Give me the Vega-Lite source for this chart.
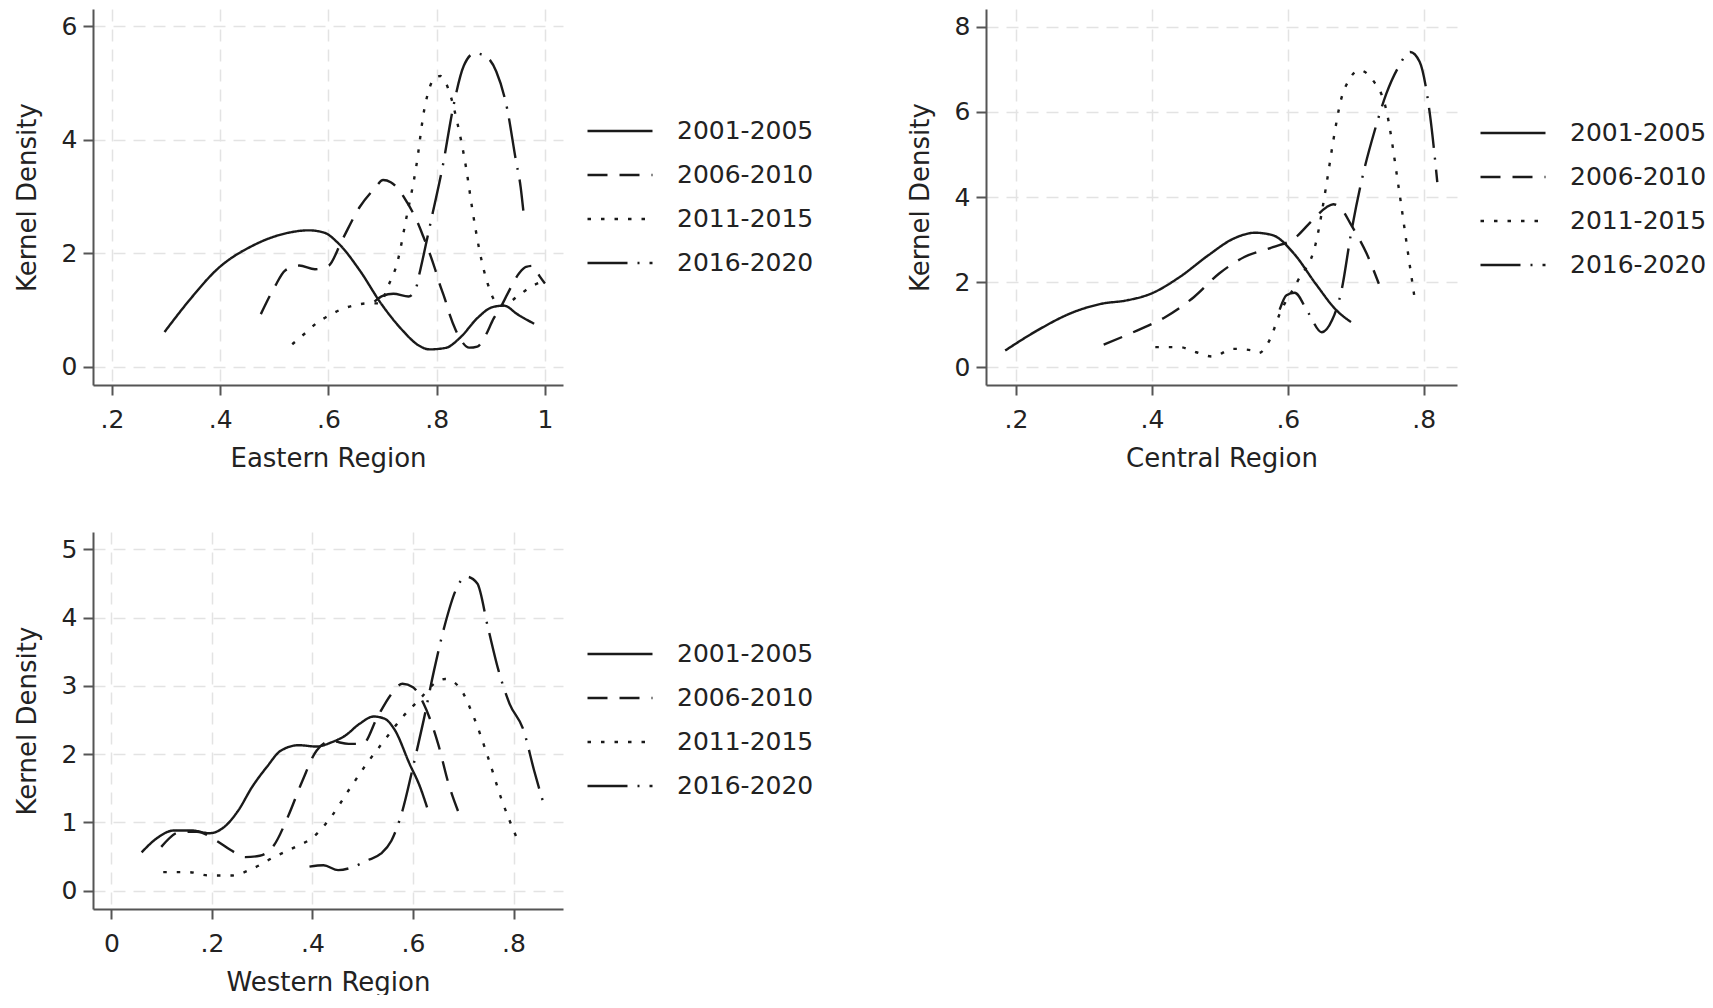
{
  "$schema": "https://vega.github.io/schema/vega-lite/v6.json",
  "background": "white",
  "padding": {"left": 14, "top": 9, "right": 0, "bottom": 0},
  "datasets": {
    "east": [
      {"period": "2001-2005", "x": 0.297, "y": 0.615}, {"period": "2001-2005", "x": 0.342, "y": 1.164}, {"period": "2001-2005", "x": 0.395, "y": 1.726},
      {"period": "2001-2005", "x": 0.461, "y": 2.14}, {"period": "2001-2005", "x": 0.527, "y": 2.364}, {"period": "2001-2005", "x": 0.563, "y": 2.405},
      {"period": "2001-2005", "x": 0.592, "y": 2.364}, {"period": "2001-2005", "x": 0.619, "y": 2.169}, {"period": "2001-2005", "x": 0.658, "y": 1.696},
      {"period": "2001-2005", "x": 0.698, "y": 1.105}, {"period": "2001-2005", "x": 0.738, "y": 0.632}, {"period": "2001-2005", "x": 0.764, "y": 0.396},
      {"period": "2001-2005", "x": 0.787, "y": 0.31}, {"period": "2001-2005", "x": 0.817, "y": 0.337}, {"period": "2001-2005", "x": 0.843, "y": 0.514},
      {"period": "2001-2005", "x": 0.876, "y": 0.869}, {"period": "2001-2005", "x": 0.902, "y": 1.05}, {"period": "2001-2005", "x": 0.924, "y": 1.08},
      {"period": "2001-2005", "x": 0.949, "y": 0.928}, {"period": "2001-2005", "x": 0.98, "y": 0.76},
      {"period": "2006-2010", "x": 0.475, "y": 0.93}, {"period": "2006-2010", "x": 0.5, "y": 1.4}, {"period": "2006-2010", "x": 0.52, "y": 1.7},
      {"period": "2006-2010", "x": 0.546, "y": 1.785}, {"period": "2006-2010", "x": 0.575, "y": 1.72}, {"period": "2006-2010", "x": 0.6, "y": 1.78},
      {"period": "2006-2010", "x": 0.625, "y": 2.23}, {"period": "2006-2010", "x": 0.658, "y": 2.82}, {"period": "2006-2010", "x": 0.685, "y": 3.14},
      {"period": "2006-2010", "x": 0.701, "y": 3.29}, {"period": "2006-2010", "x": 0.715, "y": 3.25}, {"period": "2006-2010", "x": 0.73, "y": 3.12},
      {"period": "2006-2010", "x": 0.745, "y": 2.9}, {"period": "2006-2010", "x": 0.762, "y": 2.6}, {"period": "2006-2010", "x": 0.775, "y": 2.3},
      {"period": "2006-2010", "x": 0.787, "y": 2.0}, {"period": "2006-2010", "x": 0.797, "y": 1.72}, {"period": "2006-2010", "x": 0.805, "y": 1.47},
      {"period": "2006-2010", "x": 0.815, "y": 1.2}, {"period": "2006-2010", "x": 0.823, "y": 0.95}, {"period": "2006-2010", "x": 0.835, "y": 0.65},
      {"period": "2006-2010", "x": 0.845, "y": 0.47}, {"period": "2006-2010", "x": 0.86, "y": 0.34}, {"period": "2006-2010", "x": 0.875, "y": 0.36},
      {"period": "2006-2010", "x": 0.89, "y": 0.55}, {"period": "2006-2010", "x": 0.905, "y": 0.85}, {"period": "2006-2010", "x": 0.918, "y": 1.05},
      {"period": "2006-2010", "x": 0.931, "y": 1.29}, {"period": "2006-2010", "x": 0.953, "y": 1.66}, {"period": "2006-2010", "x": 0.965, "y": 1.76},
      {"period": "2006-2010", "x": 0.978, "y": 1.78}, {"period": "2006-2010", "x": 0.99, "y": 1.6}, {"period": "2006-2010", "x": 1.0, "y": 1.47},
      {"period": "2011-2015", "x": 0.533, "y": 0.4}, {"period": "2011-2015", "x": 0.56, "y": 0.62}, {"period": "2011-2015", "x": 0.579, "y": 0.78},
      {"period": "2011-2015", "x": 0.6, "y": 0.9}, {"period": "2011-2015", "x": 0.625, "y": 1.02}, {"period": "2011-2015", "x": 0.65, "y": 1.09},
      {"period": "2011-2015", "x": 0.672, "y": 1.12}, {"period": "2011-2015", "x": 0.695, "y": 1.12}, {"period": "2011-2015", "x": 0.709, "y": 1.4},
      {"period": "2011-2015", "x": 0.728, "y": 1.87}, {"period": "2011-2015", "x": 0.743, "y": 2.58}, {"period": "2011-2015", "x": 0.762, "y": 3.52},
      {"period": "2011-2015", "x": 0.777, "y": 4.53}, {"period": "2011-2015", "x": 0.797, "y": 5.09}, {"period": "2011-2015", "x": 0.807, "y": 5.12},
      {"period": "2011-2015", "x": 0.823, "y": 4.85}, {"period": "2011-2015", "x": 0.838, "y": 4.3}, {"period": "2011-2015", "x": 0.854, "y": 3.52},
      {"period": "2011-2015", "x": 0.866, "y": 2.76}, {"period": "2011-2015", "x": 0.879, "y": 2.05}, {"period": "2011-2015", "x": 0.894, "y": 1.47},
      {"period": "2011-2015", "x": 0.907, "y": 1.17}, {"period": "2011-2015", "x": 0.922, "y": 1.08}, {"period": "2011-2015", "x": 0.95, "y": 1.25},
      {"period": "2011-2015", "x": 0.977, "y": 1.43}, {"period": "2011-2015", "x": 0.995, "y": 1.5},
      {"period": "2016-2020", "x": 0.685, "y": 1.15}, {"period": "2016-2020", "x": 0.7, "y": 1.25}, {"period": "2016-2020", "x": 0.72, "y": 1.29},
      {"period": "2016-2020", "x": 0.748, "y": 1.24}, {"period": "2016-2020", "x": 0.762, "y": 1.4}, {"period": "2016-2020", "x": 0.768, "y": 1.64},
      {"period": "2016-2020", "x": 0.79, "y": 2.6}, {"period": "2016-2020", "x": 0.811, "y": 3.53}, {"period": "2016-2020", "x": 0.83, "y": 4.55},
      {"period": "2016-2020", "x": 0.85, "y": 5.3}, {"period": "2016-2020", "x": 0.87, "y": 5.52}, {"period": "2016-2020", "x": 0.89, "y": 5.47},
      {"period": "2016-2020", "x": 0.91, "y": 5.2}, {"period": "2016-2020", "x": 0.93, "y": 4.55}, {"period": "2016-2020", "x": 0.946, "y": 3.65},
      {"period": "2016-2020", "x": 0.955, "y": 3.17}, {"period": "2016-2020", "x": 0.96, "y": 2.75}
    ],
    "central": [
      {"period": "2001-2005", "x": 0.184, "y": 0.39}, {"period": "2001-2005", "x": 0.231, "y": 0.86}, {"period": "2001-2005", "x": 0.284, "y": 1.29},
      {"period": "2001-2005", "x": 0.326, "y": 1.49}, {"period": "2001-2005", "x": 0.363, "y": 1.57}, {"period": "2001-2005", "x": 0.399, "y": 1.73},
      {"period": "2001-2005", "x": 0.441, "y": 2.12}, {"period": "2001-2005", "x": 0.483, "y": 2.63}, {"period": "2001-2005", "x": 0.52, "y": 3.02},
      {"period": "2001-2005", "x": 0.552, "y": 3.16}, {"period": "2001-2005", "x": 0.578, "y": 3.1}, {"period": "2001-2005", "x": 0.609, "y": 2.67},
      {"period": "2001-2005", "x": 0.641, "y": 1.96}, {"period": "2001-2005", "x": 0.672, "y": 1.33}, {"period": "2001-2005", "x": 0.693, "y": 1.06},
      {"period": "2006-2010", "x": 0.329, "y": 0.53}, {"period": "2006-2010", "x": 0.378, "y": 0.86}, {"period": "2006-2010", "x": 0.42, "y": 1.18},
      {"period": "2006-2010", "x": 0.462, "y": 1.65}, {"period": "2006-2010", "x": 0.499, "y": 2.2}, {"period": "2006-2010", "x": 0.536, "y": 2.59},
      {"period": "2006-2010", "x": 0.578, "y": 2.82}, {"period": "2006-2010", "x": 0.609, "y": 3.02}, {"period": "2006-2010", "x": 0.636, "y": 3.45},
      {"period": "2006-2010", "x": 0.657, "y": 3.76}, {"period": "2006-2010", "x": 0.667, "y": 3.83}, {"period": "2006-2010", "x": 0.68, "y": 3.7},
      {"period": "2006-2010", "x": 0.693, "y": 3.35}, {"period": "2006-2010", "x": 0.716, "y": 2.67}, {"period": "2006-2010", "x": 0.734, "y": 1.96},
      {"period": "2011-2015", "x": 0.405, "y": 0.47}, {"period": "2011-2015", "x": 0.441, "y": 0.47}, {"period": "2011-2015", "x": 0.465, "y": 0.35},
      {"period": "2011-2015", "x": 0.489, "y": 0.25}, {"period": "2011-2015", "x": 0.52, "y": 0.43}, {"period": "2011-2015", "x": 0.545, "y": 0.4},
      {"period": "2011-2015", "x": 0.557, "y": 0.33}, {"period": "2011-2015", "x": 0.573, "y": 0.63}, {"period": "2011-2015", "x": 0.588, "y": 1.25},
      {"period": "2011-2015", "x": 0.615, "y": 2.04}, {"period": "2011-2015", "x": 0.641, "y": 2.9}, {"period": "2011-2015", "x": 0.657, "y": 4.31},
      {"period": "2011-2015", "x": 0.667, "y": 5.33}, {"period": "2011-2015", "x": 0.678, "y": 6.27}, {"period": "2011-2015", "x": 0.69, "y": 6.75},
      {"period": "2011-2015", "x": 0.705, "y": 6.98}, {"period": "2011-2015", "x": 0.725, "y": 6.75}, {"period": "2011-2015", "x": 0.745, "y": 6.04},
      {"period": "2011-2015", "x": 0.763, "y": 4.24}, {"period": "2011-2015", "x": 0.777, "y": 2.67}, {"period": "2011-2015", "x": 0.786, "y": 1.69},
      {"period": "2016-2020", "x": 0.588, "y": 1.35}, {"period": "2016-2020", "x": 0.598, "y": 1.69}, {"period": "2016-2020", "x": 0.61, "y": 1.75},
      {"period": "2016-2020", "x": 0.63, "y": 1.28}, {"period": "2016-2020", "x": 0.65, "y": 0.82}, {"period": "2016-2020", "x": 0.665, "y": 1.1},
      {"period": "2016-2020", "x": 0.679, "y": 1.8}, {"period": "2016-2020", "x": 0.693, "y": 3.14}, {"period": "2016-2020", "x": 0.711, "y": 4.55},
      {"period": "2016-2020", "x": 0.728, "y": 5.57}, {"period": "2016-2020", "x": 0.745, "y": 6.43}, {"period": "2016-2020", "x": 0.763, "y": 7.06},
      {"period": "2016-2020", "x": 0.78, "y": 7.41}, {"period": "2016-2020", "x": 0.794, "y": 7.18}, {"period": "2016-2020", "x": 0.809, "y": 5.96},
      {"period": "2016-2020", "x": 0.82, "y": 4.35}
    ],
    "west": [
      {"period": "2001-2005", "x": 0.06, "y": 0.56}, {"period": "2001-2005", "x": 0.089, "y": 0.76}, {"period": "2001-2005", "x": 0.124, "y": 0.88},
      {"period": "2001-2005", "x": 0.16, "y": 0.88}, {"period": "2001-2005", "x": 0.195, "y": 0.84}, {"period": "2001-2005", "x": 0.224, "y": 0.93},
      {"period": "2001-2005", "x": 0.252, "y": 1.17}, {"period": "2001-2005", "x": 0.28, "y": 1.52}, {"period": "2001-2005", "x": 0.309, "y": 1.81},
      {"period": "2001-2005", "x": 0.337, "y": 2.05}, {"period": "2001-2005", "x": 0.373, "y": 2.13}, {"period": "2001-2005", "x": 0.408, "y": 2.11},
      {"period": "2001-2005", "x": 0.437, "y": 2.17}, {"period": "2001-2005", "x": 0.465, "y": 2.27}, {"period": "2001-2005", "x": 0.493, "y": 2.44},
      {"period": "2001-2005", "x": 0.522, "y": 2.55}, {"period": "2001-2005", "x": 0.543, "y": 2.52}, {"period": "2001-2005", "x": 0.564, "y": 2.35},
      {"period": "2001-2005", "x": 0.593, "y": 1.86}, {"period": "2001-2005", "x": 0.614, "y": 1.52}, {"period": "2001-2005", "x": 0.628, "y": 1.22},
      {"period": "2006-2010", "x": 0.099, "y": 0.64}, {"period": "2006-2010", "x": 0.138, "y": 0.86}, {"period": "2006-2010", "x": 0.17, "y": 0.86},
      {"period": "2006-2010", "x": 0.209, "y": 0.73}, {"period": "2006-2010", "x": 0.238, "y": 0.59}, {"period": "2006-2010", "x": 0.266, "y": 0.49},
      {"period": "2006-2010", "x": 0.295, "y": 0.51}, {"period": "2006-2010", "x": 0.323, "y": 0.66}, {"period": "2006-2010", "x": 0.351, "y": 1.08},
      {"period": "2006-2010", "x": 0.38, "y": 1.61}, {"period": "2006-2010", "x": 0.408, "y": 2.05}, {"period": "2006-2010", "x": 0.437, "y": 2.19},
      {"period": "2006-2010", "x": 0.472, "y": 2.15}, {"period": "2006-2010", "x": 0.5, "y": 2.15}, {"period": "2006-2010", "x": 0.529, "y": 2.54},
      {"period": "2006-2010", "x": 0.557, "y": 2.88}, {"period": "2006-2010", "x": 0.579, "y": 3.03}, {"period": "2006-2010", "x": 0.6, "y": 2.98},
      {"period": "2006-2010", "x": 0.621, "y": 2.74}, {"period": "2006-2010", "x": 0.65, "y": 2.15}, {"period": "2006-2010", "x": 0.671, "y": 1.56},
      {"period": "2006-2010", "x": 0.692, "y": 1.12},
      {"period": "2011-2015", "x": 0.103, "y": 0.27}, {"period": "2011-2015", "x": 0.153, "y": 0.27}, {"period": "2011-2015", "x": 0.195, "y": 0.22},
      {"period": "2011-2015", "x": 0.238, "y": 0.22}, {"period": "2011-2015", "x": 0.28, "y": 0.32}, {"period": "2011-2015", "x": 0.323, "y": 0.49},
      {"period": "2011-2015", "x": 0.366, "y": 0.64}, {"period": "2011-2015", "x": 0.401, "y": 0.78}, {"period": "2011-2015", "x": 0.437, "y": 1.08},
      {"period": "2011-2015", "x": 0.472, "y": 1.47}, {"period": "2011-2015", "x": 0.508, "y": 1.86}, {"period": "2011-2015", "x": 0.543, "y": 2.2},
      {"period": "2011-2015", "x": 0.579, "y": 2.54}, {"period": "2011-2015", "x": 0.614, "y": 2.81}, {"period": "2011-2015", "x": 0.642, "y": 3.03},
      {"period": "2011-2015", "x": 0.664, "y": 3.1}, {"period": "2011-2015", "x": 0.692, "y": 2.98}, {"period": "2011-2015", "x": 0.721, "y": 2.54},
      {"period": "2011-2015", "x": 0.749, "y": 1.96}, {"period": "2011-2015", "x": 0.777, "y": 1.32}, {"period": "2011-2015", "x": 0.806, "y": 0.78},
      {"period": "2016-2020", "x": 0.394, "y": 0.35}, {"period": "2016-2020", "x": 0.422, "y": 0.37}, {"period": "2016-2020", "x": 0.451, "y": 0.3},
      {"period": "2016-2020", "x": 0.479, "y": 0.34}, {"period": "2016-2020", "x": 0.508, "y": 0.44}, {"period": "2016-2020", "x": 0.536, "y": 0.54},
      {"period": "2016-2020", "x": 0.557, "y": 0.73}, {"period": "2016-2020", "x": 0.579, "y": 1.17}, {"period": "2016-2020", "x": 0.6, "y": 1.81},
      {"period": "2016-2020", "x": 0.621, "y": 2.49}, {"period": "2016-2020", "x": 0.642, "y": 3.23}, {"period": "2016-2020", "x": 0.664, "y": 3.91},
      {"period": "2016-2020", "x": 0.685, "y": 4.4}, {"period": "2016-2020", "x": 0.706, "y": 4.6}, {"period": "2016-2020", "x": 0.728, "y": 4.5},
      {"period": "2016-2020", "x": 0.749, "y": 3.86}, {"period": "2016-2020", "x": 0.77, "y": 3.23}, {"period": "2016-2020", "x": 0.792, "y": 2.74},
      {"period": "2016-2020", "x": 0.82, "y": 2.35}, {"period": "2016-2020", "x": 0.841, "y": 1.76}, {"period": "2016-2020", "x": 0.862, "y": 1.22}
    ]
  },
  "config": {
    "font": "DejaVu Sans",
    "view": {"stroke": null},
    "axis": {
      "grid": true, "gridColor": "#e3e3e3", "gridDash": [12, 8], "gridWidth": 1.5,
      "domainColor": "#555", "domainWidth": 2, "tickColor": "#555", "tickWidth": 2, "tickSize": 10,
      "labelFontSize": 25, "labelColor": "#222", "labelFlush": false, "labelOverlap": false,
      "titleFontSize": 26, "titleFontWeight": "normal", "titleColor": "#222"
    },
    "axisX": {"labelPadding": 12, "titlePadding": 13, "labelAngle": 0},
    "axisY": {"labelPadding": 6, "titlePadding": 21},
    "legend": {
      "symbolType": "stroke", "symbolSize": 4225, "symbolStrokeWidth": 2.4, "symbolStrokeColor": "#1a1a1a",
      "labelFontSize": 25, "labelColor": "#222", "labelOffset": 23,
      "clipHeight": 30, "rowPadding": 14, "padding": 0
    },
    "line": {"interpolate": "monotone", "strokeWidth": 2.4, "color": "#1a1a1a"}
  },
  "resolve": {"scale": {"strokeDash": "independent"}, "legend": {"strokeDash": "independent"}},
  "spacing": 61,
  "vconcat": [
    {
      "spacing": 93,
      "resolve": {"scale": {"strokeDash": "independent"}, "legend": {"strokeDash": "independent"}},
      "hconcat": [
        {
          "width": 470, "height": 376,
          "data": {"name": "east"},
          "mark": {"type": "line"},
          "encoding": {
            "x": {"field": "x", "type": "quantitative",
              "scale": {"domain": [0.1649, 1.0333], "nice": false, "zero": false},
              "axis": {"title": "Eastern Region", "values": [0.2, 0.4, 0.6, 0.8, 1],
                "labelExpr": "datum.value > 0 && datum.value < 1 ? substring(format(datum.value, '.1f'), 1) : format(datum.value, 'd')"}},
            "y": {"field": "y", "type": "quantitative",
              "scale": {"domain": [-0.317, 6.3], "nice": false, "zero": false},
              "axis": {"title": "Kernel Density", "values": [0, 2, 4, 6]}},
            "strokeDash": {"field": "period", "type": "nominal",
              "scale": {"domain": ["2001-2005", "2006-2010", "2011-2015", "2016-2020"], "range": [[1, 0], [20, 12], [3.5, 10], [40, 10, 2, 10]]},
              "legend": {"title": null, "orient": "none", "legendX": 493, "legendY": 107}}
          }
        },
        {
          "width": 471, "height": 376,
          "data": {"name": "central"},
          "mark": {"type": "line"},
          "encoding": {
            "x": {"field": "x", "type": "quantitative",
              "scale": {"domain": [0.1558, 0.849], "nice": false, "zero": false},
              "axis": {"title": "Central Region", "values": [0.2, 0.4, 0.6, 0.8],
                "labelExpr": "datum.value > 0 && datum.value < 1 ? substring(format(datum.value, '.1f'), 1) : format(datum.value, 'd')"}},
            "y": {"field": "y", "type": "quantitative",
              "scale": {"domain": [-0.42, 8.42], "nice": false, "zero": false},
              "axis": {"title": "Kernel Density", "values": [0, 2, 4, 6, 8]}},
            "strokeDash": {"field": "period", "type": "nominal",
              "scale": {"domain": ["2001-2005", "2006-2010", "2011-2015", "2016-2020"], "range": [[1, 0], [20, 12], [3.5, 10], [40, 10, 2, 10]]},
              "legend": {"title": null, "orient": "none", "legendX": 493, "legendY": 109}}
          }
        }
      ]
    },
    {
      "width": 470, "height": 377,
      "data": {"name": "west"},
      "mark": {"type": "line"},
      "encoding": {
        "x": {"field": "x", "type": "quantitative",
          "scale": {"domain": [-0.0368, 0.8985], "nice": false, "zero": false},
          "axis": {"title": "Western Region", "values": [0, 0.2, 0.4, 0.6, 0.8],
            "labelExpr": "datum.value > 0 && datum.value < 1 ? substring(format(datum.value, '.1f'), 1) : format(datum.value, 'd')"}},
        "y": {"field": "y", "type": "quantitative",
          "scale": {"domain": [-0.27, 5.254], "nice": false, "zero": false},
          "axis": {"title": "Kernel Density", "values": [0, 1, 2, 3, 4, 5]}},
        "strokeDash": {"field": "period", "type": "nominal",
          "scale": {"domain": ["2001-2005", "2006-2010", "2011-2015", "2016-2020"], "range": [[1, 0], [20, 12], [3.5, 10], [40, 10, 2, 10]]},
          "legend": {"title": null, "orient": "none", "legendX": 493, "legendY": 107}}
      }
    }
  ]
}
